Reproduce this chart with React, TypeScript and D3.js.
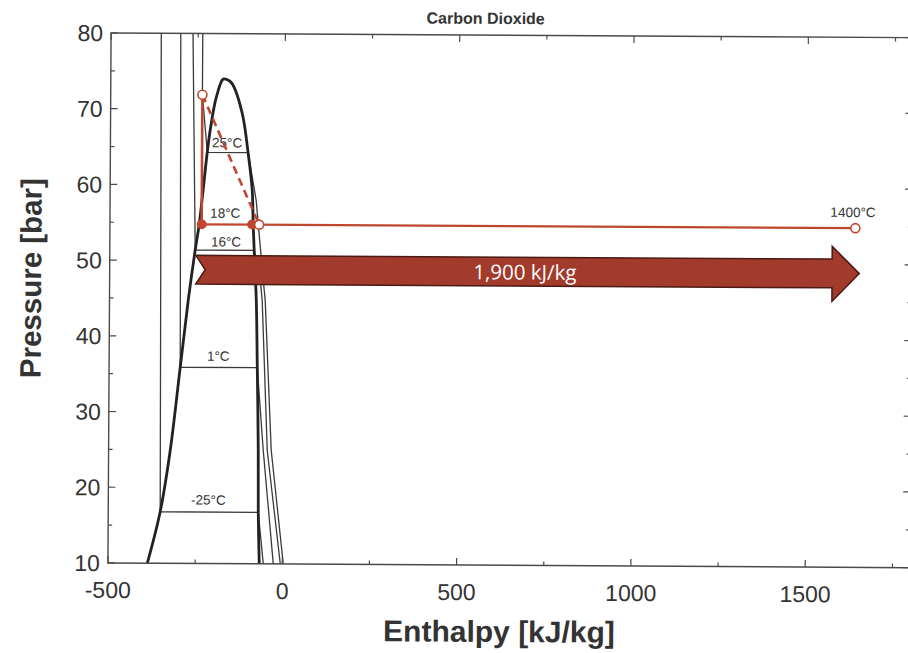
import React from "react";
import * as d3 from "d3";

// ---- data (enthalpy kJ/kg, pressure bar) ----
const xTicks = [-500, -250, 0, 250, 500, 750, 1000, 1250, 1500, 1750];
const xLabels = [-500, 0, 500, 1000, 1500];
const yTicks = [10, 15, 20, 25, 30, 35, 40, 45, 50, 55, 60, 65, 70, 75, 80];
const yLabels = [10, 20, 30, 40, 50, 60, 70, 80];

const domeLiquid: [number, number][] = [
  [-387, 10], [-351, 16.8], [-323, 25], [-296, 35.9], [-274, 44.8], [-255, 51.4],
  [-244, 54.8], [-222, 64.35], [-214, 67.25], [-197, 71.6], [-177.5, 74.0],
];
const domeVapor: [number, number][] = [
  [-177.5, 74.0], [-165, 73.9], [-152, 73.4], [-122.5, 69.5], [-104.7, 64.2], [-92.6, 59.4],
  [-89.2, 54.9], [-85.8, 51.4], [-79, 44.8], [-75, 36], [-70.8, 25], [-69.7, 16.8], [-66, 10],
];

const isoMinus25: [number, number][] = [[-356, 80], [-351, 16.8], [-69.7, 16.8], [-54.5, 10]];
const iso1: [number, number][] = [[-300, 80], [-296, 35.9], [-75, 35.9], [-56.5, 25], [-25.8, 10]];
const iso16: [number, number][] = [[-265, 80], [-255, 51.4], [-85.8, 51.4], [-68, 47.5], [-62, 44.8], [-45, 25], [-5.7, 10]];
const iso25: [number, number][] = [[-237, 80], [-237, 71.9], [-222, 64.3], [-104.7, 64.3], [-81, 58], [-59.4, 47.5], [-53.4, 44.8], [-33.6, 25], [2.9, 10]];

const isoLabels = ["25°C", "18°C", "16°C", "1°C", "-25°C"];
const isoLabelH = [-165, -169.5, -166.6, -187, -213];
const isoLabelP = [65.6, 56.3, 52.5, 37.4, 18.4];

const cycleVertical: [number, number][] = [[-237, 71.9], [-237, 54.8]];
const cycleDashed: [number, number][] = [[-237, 71.9], [-72, 54.8]];
const cycleHeat: [number, number][] = [[-237, 54.8], [1638, 54.8]];
const filledPts: [number, number][] = [[-237, 54.8], [-92, 54.8]];
const openPts: [number, number][] = [[-237, 71.9], [-72, 54.8], [1638, 54.8]];
const hotLabel = { text: "1400°C", h: 1631, p: 56.9 };

const arrowShape: [number, number][] = [
  [-253, 50.7], [1572, 50.7], [1572, 52.4], [1650, 48.8], [1572, 45.1],
  [1572, 46.9], [-253, 46.9], [-226, 48.8],
];
const arrowLabel = { text: "1,900 kJ/kg", h: 691, p: 48.7 };

// ---- layout ----
const W = 908;
const H = 653;
const x = d3.scaleLinear().domain([-500, 1800]).range([109.5, 911.4]);
const y = d3.scaleLinear().domain([10, 80]).range([565.3, 35.3]);

const line = d3.line<[number, number]>().x((d) => x(d[0])).y((d) => y(d[1]));
const smooth = d3
  .line<[number, number]>()
  .x((d) => x(d[0]))
  .y((d) => y(d[1]))
  .curve(d3.curveCatmullRom.alpha(0.5));

const RED = "#c0472f";
const AX = "#4a4a4a";
const FONT = "'Liberation Sans', Arial, sans-serif";

export default function App() {
  const x0 = x(-500);
  const x1 = x(1800);
  const y0 = y(10);
  const y1 = y(80);
  return (
    <svg
      width={W}
      height={H}
      style={{ position: "absolute", left: 0, top: 0, background: "#fff" }}
      fontFamily={FONT}
    >
      <g transform="rotate(0.34, 508, 300)">
        {/* title */}
        <text x={484} y={24} textAnchor="middle" fontSize={16} fontWeight="bold" fill="#333">
          Carbon Dioxide
        </text>

        {/* isotherms */}
        {[isoMinus25, iso1, iso16, iso25].map((d, i) => (
          <path key={i} d={line(d) || ""} fill="none" stroke="#3a3a3a" strokeWidth={1.3} />
        ))}
        {/* saturation dome */}
        <path
          d={smooth([...domeLiquid, ...domeVapor.slice(1)]) || ""}
          fill="none"
          stroke="#222"
          strokeWidth={2.8}
          strokeLinejoin="round"
        />
        {isoLabels.map((t, i) => (
          <text
            key={t}
            x={x(isoLabelH[i])}
            y={y(isoLabelP[i])}
            dy="0.35em"
            textAnchor="middle"
            fontSize={13.5}
            fill="#333"
          >
            {t}
          </text>
        ))}

        {/* big arrow */}
        <path
          d={(line(arrowShape) || "") + "Z"}
          fill="#a33b2c"
          stroke="#4a1a14"
          strokeWidth={1.5}
          strokeLinejoin="miter"
        />
        <text
          x={x(arrowLabel.h)}
          y={y(arrowLabel.p)}
          dy="0.35em"
          textAnchor="middle"
          fontSize={20.5}
          fill="#fff"
          fontFamily="'Open Sans', 'Noto Sans', sans-serif"
        >
          {arrowLabel.text}
        </text>

        {/* cycle */}
        <path d={line(cycleHeat) || ""} stroke={RED} strokeWidth={2.2} fill="none" />
        <path d={line(cycleVertical) || ""} stroke={RED} strokeWidth={2.6} fill="none" />
        <path d={line(cycleDashed) || ""} stroke={RED} strokeWidth={2.6} strokeDasharray="8,5" fill="none" />
        {filledPts.map((d, i) => (
          <circle key={"f" + i} cx={x(d[0])} cy={y(d[1])} r={5} fill={RED} />
        ))}
        {openPts.map((d, i) => (
          <circle key={"o" + i} cx={x(d[0])} cy={y(d[1])} r={4.5} fill="#fff" stroke={RED} strokeWidth={1.6} />
        ))}
        <text x={x(hotLabel.h)} y={y(hotLabel.p)} dy="0.35em" textAnchor="middle" fontSize={13.5} fill="#333">
          {hotLabel.text}
        </text>

        {/* axes frame */}
        <rect x={x0} y={y1} width={x1 - x0} height={y0 - y1} fill="none" stroke={AX} strokeWidth={1.4} />
        {xTicks.map((t) => {
          const len = t % 500 === 0 ? 7 : 4;
          return (
            <g key={"xt" + t}>
              <line x1={x(t)} x2={x(t)} y1={y0} y2={y0 - len} stroke={AX} strokeWidth={1.2} />
              <line x1={x(t)} x2={x(t)} y1={y1} y2={y1 + len} stroke={AX} strokeWidth={1.2} />
            </g>
          );
        })}
        {yTicks.map((t) => {
          const len = t % 10 === 0 ? 7 : 4;
          return (
            <g key={"yt" + t}>
              <line x1={x0} x2={x0 + len} y1={y(t)} y2={y(t)} stroke={AX} strokeWidth={1.2} />
              <line x1={x1} x2={x1 - len} y1={y(t)} y2={y(t)} stroke={AX} strokeWidth={1.2} />
            </g>
          );
        })}
        {xLabels.map((t) => (
          <text key={"xl" + t} x={x(t)} y={y0 + 35} textAnchor="middle" fontSize={23} fill="#333">
            {t}
          </text>
        ))}
        {yLabels.map((t) => (
          <text key={"yl" + t} x={x0 - 8} y={y(t)} dy="0.36em" textAnchor="end" fontSize={23} fill="#333">
            {t}
          </text>
        ))}

        {/* axis titles */}
        <text x={501} y={642} textAnchor="middle" fontSize={30} fontWeight="bold" fill="#333">
          Enthalpy [kJ/kg]
        </text>
        <text
          transform="translate(41, 281) rotate(-90)"
          textAnchor="middle"
          fontSize={29.5}
          fontWeight="bold"
          fill="#333"
        >
          Pressure [bar]
        </text>
      </g>
    </svg>
  );
}
